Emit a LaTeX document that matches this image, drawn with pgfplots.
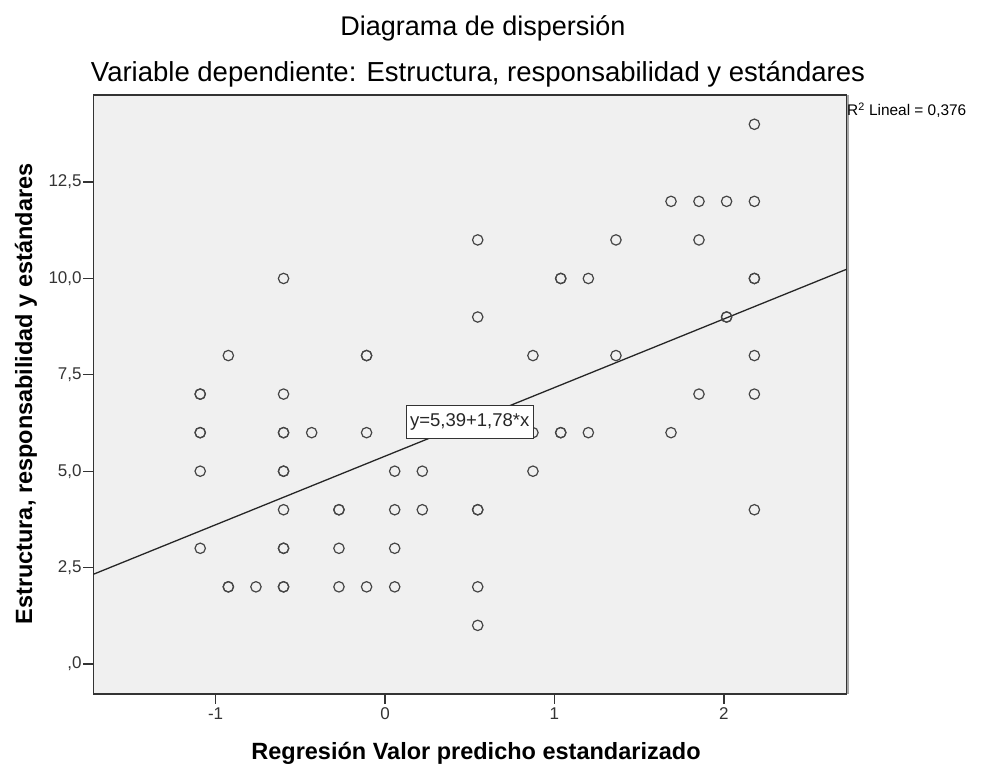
\documentclass[border=0pt]{standalone}
\usepackage{pgfplots}
\pgfplotsset{compat=1.18}
\usepackage{fontspec}
\setmainfont{Liberation Sans}
\definecolor{bg}{HTML}{F0F0F0}
\definecolor{mk}{HTML}{454545}
\definecolor{ax}{HTML}{333333}
\begin{document}
\begin{tikzpicture}[x=1bp,y=1bp]
\path[use as bounding box] (0,0) rectangle (981,764);
\begin{axis}[
  at={(93.3bp,70bp)}, anchor=south west,
  scale only axis, width=753.4bp, height=599bp,
  xmin=-1.722, xmax=2.725, ymin=-0.78, ymax=14.76,
  axis background/.style={fill=bg},
  axis line style={ax, line width=1.3bp},
  xtick={-1,0,1,2}, xticklabels={-1,0,1,2},
  ytick={0,2.5,5,7.5,10,12.5},
  yticklabels={{,0},{2,5},{5,0},{7,5},{10,0},{12,5}},
  tick align=outside, tick pos=left, major tick length=10bp,
  tick style={ax, line width=1.3bp},
  ticklabel style={font=\fontsize{17bp}{20bp}\selectfont, text=ax},
  yticklabel style={inner xsep=1.5bp},
  xticklabel style={inner ysep=3bp, text height=12bp, text depth=0bp},
  clip=true,
]
\addplot[black!85, line width=1.3bp] coordinates {(-1.722,2.325) (2.725,10.240)};
\addplot[only marks, mark=o, mark size=5.2bp, mark options={draw=mk, line width=1.2bp, fill=none}] coordinates {
(-1.091,7) (-1.091,7) (-1.091,6) (-1.091,6) (-1.091,5) (-1.091,3)
(-0.925,8) (-0.925,2) (-0.925,2)
(-0.762,2)
(-0.599,10) (-0.599,7) (-0.599,6) (-0.599,6) (-0.599,5) (-0.599,5) (-0.599,4) (-0.599,3) (-0.599,3) (-0.599,2) (-0.599,2)
(-0.433,6)
(-0.272,4) (-0.272,4) (-0.272,3) (-0.272,2)
(-0.109,8) (-0.109,8) (-0.109,6) (-0.109,2)
(0.057,5) (0.057,4) (0.057,3) (0.057,2)
(0.220,5) (0.220,4)
(0.547,11) (0.547,9) (0.547,6) (0.547,4) (0.547,4) (0.547,2) (0.547,1)
(0.873,8) (0.873,6) (0.873,5)
(1.037,10) (1.037,10) (1.037,6) (1.037,6)
(1.200,10) (1.200,6)
(1.363,11) (1.363,8)
(1.688,12) (1.688,6)
(1.853,12) (1.853,11) (1.853,7)
(2.016,12) (2.016,9) (2.016,9)
(2.180,14) (2.180,12) (2.180,10) (2.180,10) (2.180,8) (2.180,7) (2.180,4)
};
\coordinate (boxc) at (axis cs:0.5,6.28);
\end{axis}
\node[fill=white, draw=ax, line width=1bp, inner xsep=4bp, minimum height=33bp,
      font=\fontsize{18.5bp}{20bp}\selectfont, text=black!85]
  at (boxc) {y=5,39+1,78*x};
\draw[gray!70, line width=2bp] (847.7,70) -- (847.7,669);
% titles and labels
\node[anchor=base, font=\fontsize{27bp}{30bp}\selectfont] at (483,728) {Diagrama de dispersión};
\node[anchor=base, font=\fontsize{27.5bp}{30bp}\selectfont] at (478,682) {Variable dependiente: Estructura, responsabilidad y estándares};
\node[anchor=base, font=\fontsize{23.5bp}{26bp}\selectfont\bfseries] at (476,4) {Regresión Valor predicho estandarizado};
\node[anchor=base, rotate=90, font=\fontsize{23.5bp}{26bp}\selectfont\bfseries] at (32,370) {Estructura, responsabilidad y estándares};
\node[anchor=base west, inner xsep=0pt, font=\fontsize{15.4bp}{17bp}\selectfont] at (847,648) {R\textsuperscript{2} Lineal = 0,376};
\end{tikzpicture}
\end{document}
